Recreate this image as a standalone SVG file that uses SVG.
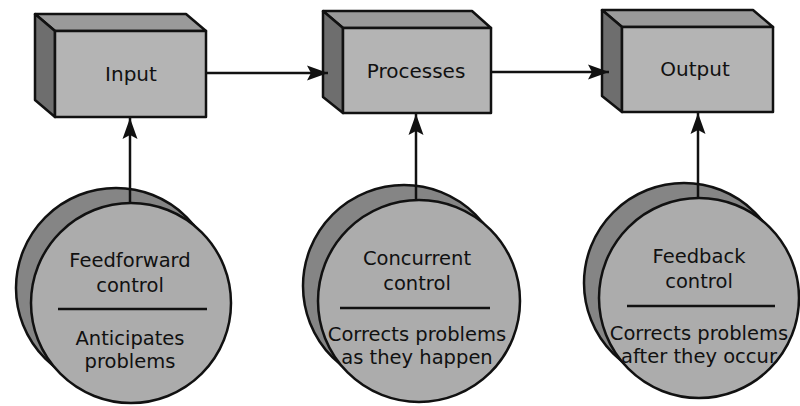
<svg xmlns="http://www.w3.org/2000/svg" width="800" height="406" viewBox="0 0 800 406">
<defs>
<style>
.front{fill:#b4b4b4;stroke:#111;stroke-width:2.5;stroke-linejoin:round}
.top{fill:#9a9a9a;stroke:#111;stroke-width:2.5;stroke-linejoin:round}
.side{fill:#6e6e6e;stroke:#111;stroke-width:2.5;stroke-linejoin:round}
.cfront{fill:#acacac;stroke:#111;stroke-width:2.5}
.cback{fill:#858585;stroke:#111;stroke-width:2.5}
.sep{stroke:#111;stroke-width:2.5}
.lbl{font-family:"DejaVu Sans",sans-serif;font-size:20px;fill:#111;text-anchor:middle}
.ctxt{font-family:"DejaVu Sans",sans-serif;font-size:19.5px;fill:#111;text-anchor:middle}
.conn{stroke:#111;stroke-width:2.5;fill:none}
</style>
<marker id="ah" markerUnits="userSpaceOnUse" markerWidth="24" markerHeight="18" refX="21" refY="8" orient="auto">
<path d="M0,0.5 L21,8 L0,15.5 L4,8 z" fill="#111"/>
</marker>
</defs>

<g id="input">
<polygon class="top" points="55,31 35,14 186,14 206,31"/>
<polygon class="side" points="55,31 35,14 35,100 55,117"/>
<rect class="front" x="55" y="31" width="151" height="86"/>
<text class="lbl" x="131" y="81">Input</text>
</g>

<g id="processes">
<polygon class="top" points="343,28 323,11 472,11 491,28"/>
<polygon class="side" points="343,28 323,11 323,97 343,113"/>
<rect class="front" x="343" y="28" width="148" height="85"/>
<text class="lbl" x="416" y="78">Processes</text>
</g>

<g id="output">
<polygon class="top" points="622,27 602,10 753,10 773,27"/>
<polygon class="side" points="622,27 602,10 602,96 622,112"/>
<rect class="front" x="622" y="27" width="151" height="85"/>
<text class="lbl" x="695" y="76">Output</text>
</g>

<g id="feedforward">
<circle class="cback" cx="116" cy="288" r="100"/>
<circle class="cfront" cx="131" cy="303" r="100"/>
<line class="sep" x1="58" y1="309" x2="207" y2="309"/>
<text class="ctxt" x="130" y="267">Feedforward</text>
<text class="ctxt" x="130" y="292">control</text>
<text class="ctxt" x="130" y="345">Anticipates</text>
<text class="ctxt" x="130" y="368">problems</text>
</g>

<g id="concurrent">
<circle class="cback" cx="404" cy="286" r="101"/>
<circle class="cfront" cx="419" cy="301" r="101"/>
<line class="sep" x1="340" y1="308" x2="490" y2="308"/>
<text class="ctxt" x="417" y="265">Concurrent</text>
<text class="ctxt" x="417" y="290">control</text>
<text class="ctxt" x="417" y="341">Corrects problems</text>
<text class="ctxt" x="417" y="364">as they happen</text>
</g>

<g id="feedback">
<circle class="cback" cx="684" cy="283" r="100"/>
<circle class="cfront" cx="699" cy="298" r="100"/>
<line class="sep" x1="627" y1="306" x2="775" y2="306"/>
<text class="ctxt" x="699" y="263">Feedback</text>
<text class="ctxt" x="699" y="288">control</text>
<text class="ctxt" x="699" y="340">Corrects problems</text>
<text class="ctxt" x="699" y="363">after they occur</text>
</g>

<g id="connectors">
<line class="conn" x1="206" y1="73" x2="328" y2="73" marker-end="url(#ah)"/>
<line class="conn" x1="491" y1="72" x2="609" y2="72" marker-end="url(#ah)"/>
<line class="conn" x1="130" y1="203" x2="130" y2="118" marker-end="url(#ah)"/>
<line class="conn" x1="416" y1="200" x2="416" y2="114" marker-end="url(#ah)"/>
<line class="conn" x1="698" y1="198" x2="698" y2="113" marker-end="url(#ah)"/>
</g>
</svg>
